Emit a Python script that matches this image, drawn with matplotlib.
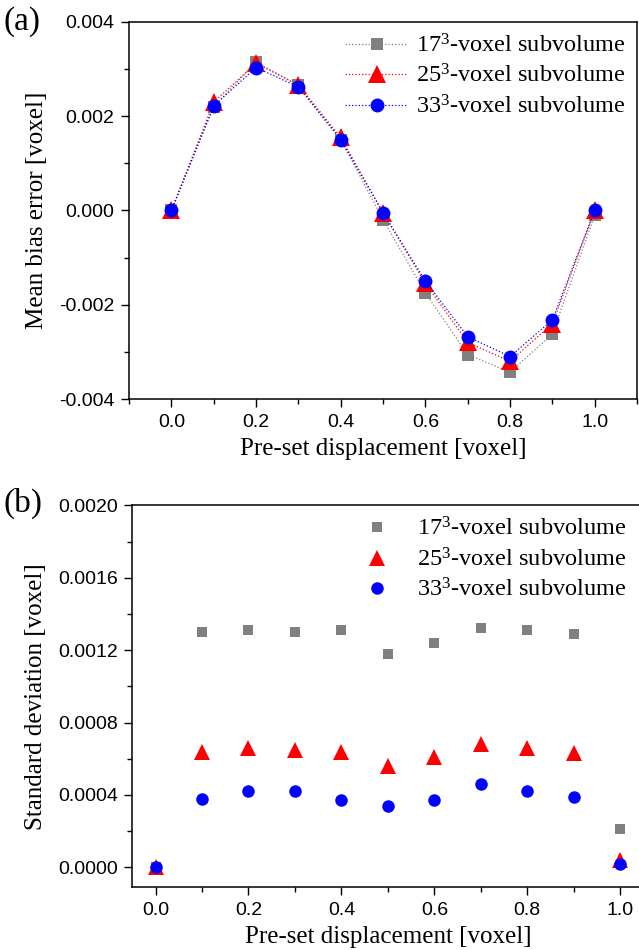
import matplotlib
matplotlib.use('Agg')
import matplotlib.pyplot as plt
from matplotlib.ticker import MultipleLocator, FormatStrFormatter

plt.rcParams['font.family'] = 'Liberation Sans'
plt.rcParams['mathtext.fontset'] = 'custom'
plt.rcParams['mathtext.rm'] = 'Liberation Serif'

# pre-set displacement
disp = [0.0, 0.1, 0.2, 0.3, 0.4, 0.5, 0.6, 0.7, 0.8, 0.9, 1.0]

# (a) mean bias error
bias_17 = [0.0, 0.00220, 0.00315, 0.00265, 0.00150, -0.00020, -0.00175, -0.00306, -0.00343, -0.00262, -0.00010]
bias_25 = [0.0, 0.00230, 0.00312, 0.00266, 0.00155, -0.00005, -0.00155, -0.00280, -0.00320, -0.00240, 0.00000]
bias_33 = [0.0, 0.00222, 0.00303, 0.00262, 0.00150, -0.00005, -0.00150, -0.00268, -0.00310, -0.00232, 0.00000]

# (b) standard deviation
std_17 = [0.0, 0.00130, 0.00131, 0.00130, 0.00131, 0.00118, 0.00124, 0.00132, 0.00131, 0.00129, 0.00021]
std_25 = [0.0, 0.00064, 0.00066, 0.00065, 0.00064, 0.00056, 0.00061, 0.00068, 0.00066, 0.00063, 0.00004]
std_33 = [0.0, 0.00038, 0.00042, 0.00042, 0.00037, 0.00034, 0.00037, 0.00046, 0.00042, 0.00039, 0.00002]

labels = [r'$\mathregular{17^3}$-voxel subvolume',
          r'$\mathregular{25^3}$-voxel subvolume',
          r'$\mathregular{33^3}$-voxel subvolume']
colors = ['#808080', '#ff0000', '#0000ff']
markers = ['s', '^', 'o']
msizes_a = [8.5, 12.5, 10]
msizes_b = [7.5, 11, 9]

serif = {'family': 'Liberation Serif', 'size': 18}
legprop = {'family': 'Liberation Serif', 'size': 17.5}

fig = plt.figure(figsize=(6.39, 9.5), dpi=100)
ax1 = fig.add_axes([0.202, 0.58, 0.795, 0.397])
ax2 = fig.add_axes([0.207, 0.066, 0.80, 0.402])

# panel (a)
for ys, c, m, ms, lab in zip([bias_17, bias_25, bias_33], colors, markers, msizes_a, labels):
    ax1.plot(disp, ys, linestyle=':', linewidth=0.9, color=c, marker=m,
             markersize=ms, markeredgewidth=0, label=lab)
ax1.set_xlim(-0.1, 1.1)
ax1.set_ylim(-0.004, 0.004)
ax1.xaxis.set_major_locator(MultipleLocator(0.2))
ax1.xaxis.set_minor_locator(MultipleLocator(0.1))
ax1.yaxis.set_major_locator(MultipleLocator(0.002))
ax1.yaxis.set_minor_locator(MultipleLocator(0.001))
ax1.xaxis.set_major_formatter(FormatStrFormatter('%.1f'))
ax1.yaxis.set_major_formatter(FormatStrFormatter('%.3f'))
ax1.set_xlabel('Pre-set displacement [voxel]', fontdict=serif, labelpad=5)
ax1.set_ylabel('Mean bias error [voxel]', fontdict=serif, labelpad=8)
ax1.legend(loc='upper right', frameon=False, handlelength=2.6, handletextpad=0.3,
           labelspacing=0.3, borderaxespad=0.1, prop=legprop)

# panel (b)
for ys, c, m, ms, lab in zip([std_17, std_25, std_33], colors, markers, msizes_b, labels):
    ax2.plot(disp, ys, linestyle='none', color=c, marker=m,
             markersize=ms, markeredgewidth=0, label=lab)
ax2.set_xlim(-0.05, 1.05)
ax2.set_ylim(-0.00011, 0.002)
ax2.xaxis.set_major_locator(MultipleLocator(0.2))
ax2.xaxis.set_minor_locator(MultipleLocator(0.1))
ax2.yaxis.set_major_locator(MultipleLocator(0.0004))
ax2.yaxis.set_minor_locator(MultipleLocator(0.0002))
ax2.xaxis.set_major_formatter(FormatStrFormatter('%.1f'))
ax2.yaxis.set_major_formatter(FormatStrFormatter('%.4f'))
ax2.set_xlabel('Pre-set displacement [voxel]', fontdict=serif, labelpad=5)
ax2.set_ylabel('Standard deviation [voxel]', fontdict=serif, labelpad=8)
ax2.legend(loc='upper right', frameon=False, handlelength=1.5, handletextpad=0.9,
           labelspacing=0.3, borderaxespad=0.1, bbox_to_anchor=(0.99, 1.0),
           prop=legprop)

for ax in (ax1, ax2):
    ax.tick_params(which='major', direction='out', length=5.5, width=1, labelsize=14, pad=5)
    ax.tick_params(which='minor', direction='out', length=3.5, width=1)
    for sp in ax.spines.values():
        sp.set_linewidth(1.1)

fig.text(0.006, 0.977, '(a)', family='Liberation Serif', fontsize=24, va='center')
fig.text(0.006, 0.470, '(b)', family='Liberation Serif', fontsize=24, va='center')

fig.savefig('out.png', dpi=100)
